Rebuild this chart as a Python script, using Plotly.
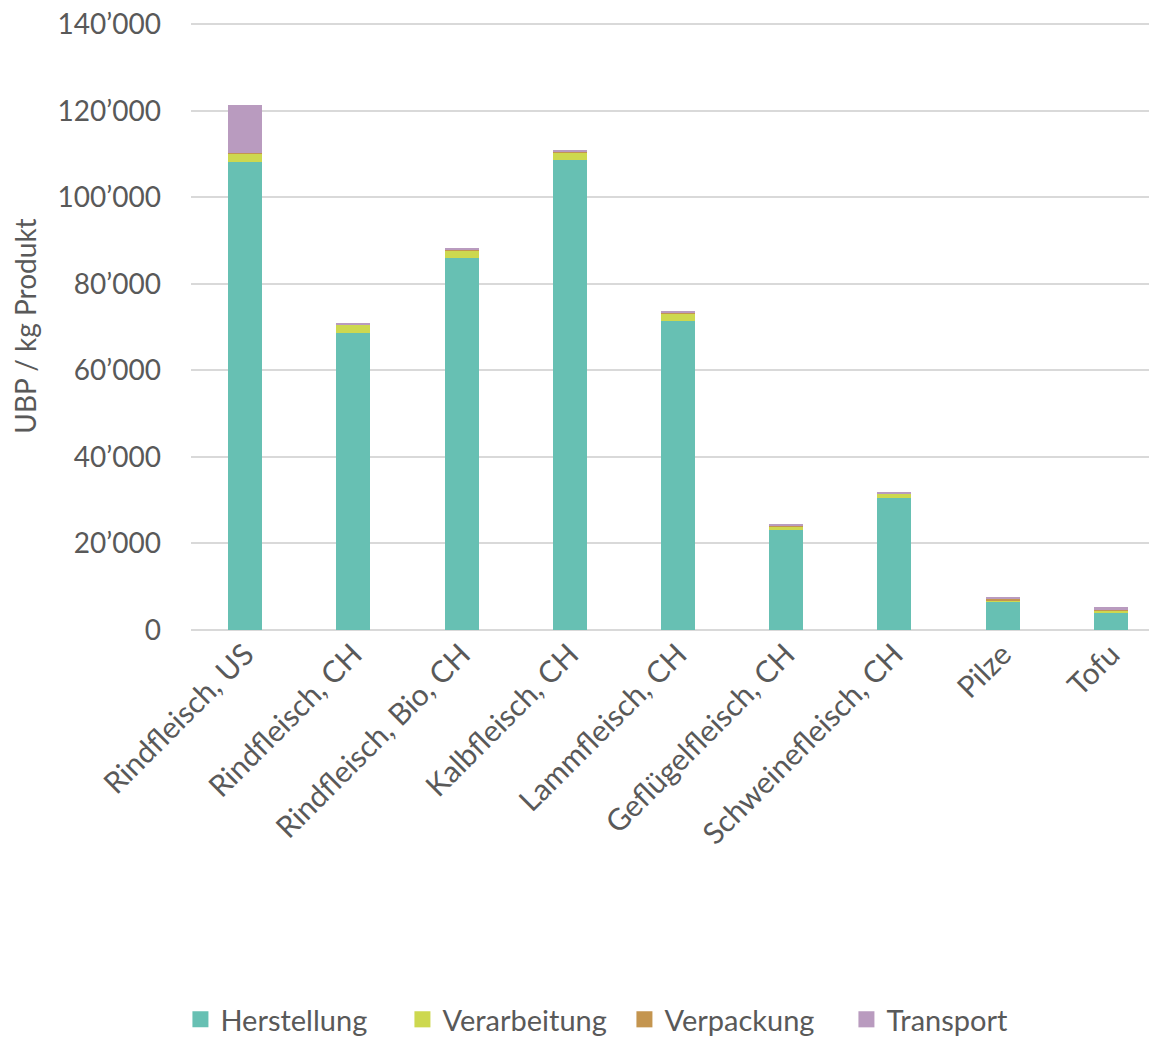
import plotly.graph_objects as go

categories = ["Rindfleisch, US", "Rindfleisch, CH", "Rindfleisch, Bio, CH", "Kalbfleisch, CH",
              "Lammfleisch, CH", "Geflügelfleisch, CH", "Schweinefleisch, CH", "Pilze", "Tofu"]
herstellung = [108100, 68700, 86000, 108600, 71500, 23100, 30600, 6500, 4000]
verarbeitung = [1950, 1850, 1750, 1850, 1700, 900, 900, 400, 400]
verpackung = [100, 100, 100, 100, 100, 100, 100, 300, 300]
transport = [11100, 250, 400, 200, 350, 300, 250, 400, 600]

tick_vals = [0, 20000, 40000, 60000, 80000, 100000, 120000, 140000]
tick_text = ["0", "20’000", "40’000", "60’000", "80’000", "100’000", "120’000", "140’000"]

series = [
    ("Herstellung", herstellung, "#67C0B3"),
    ("Verarbeitung", verarbeitung, "#CDD84F"),
    ("Verpackung", verpackung, "#C4954F"),
    ("Transport", transport, "#B99BBF"),
]

fig = go.Figure()
for name, vals, col in series:
    fig.add_trace(go.Bar(x=categories, y=vals, name=name, marker_color=col,
                         marker_line_width=0, showlegend=False))
# legend entries with bigger square swatches
for name, vals, col in series:
    fig.add_trace(go.Scatter(x=[None], y=[None], mode="markers", name=name,
                             marker=dict(symbol="square", size=19, color=col)))

txt = "#595959"
fig.update_layout(
    barmode="stack",
    bargap=0.686,
    width=1157, height=1037,
    margin=dict(l=183, r=0, t=14, b=414),
    plot_bgcolor="white", paper_bgcolor="white",
    font=dict(family="Lato, Noto Sans, sans-serif", size=26, color=txt),
    legend=dict(orientation="h", x=0.445, xanchor="center", y=-0.640, yanchor="middle",
                font=dict(size=29, color=txt), itemwidth=30, traceorder="normal",
                itemsizing="trace", entrywidth=177),
)
fig.update_yaxes(range=[0, 140500], tickvals=tick_vals, ticktext=tick_text, automargin=False,
                 showgrid=True, gridcolor="#D9D9D9", gridwidth=1.5,
                 zeroline=True, zerolinecolor="#D9D9D9", zerolinewidth=1.5,
                 tickfont=dict(size=28, color=txt), ticks="", ticklen=0, ticklabelstandoff=29,
                 ticklabeloverflow="allow",
                 title=dict(text="UBP / kg Produkt", font=dict(size=28, color=txt), standoff=12))
fig.update_xaxes(tickangle=-45, tickfont=dict(size=30, color=txt), showline=False, ticks="",
                 automargin=False)

fig.write_html("out.html")
